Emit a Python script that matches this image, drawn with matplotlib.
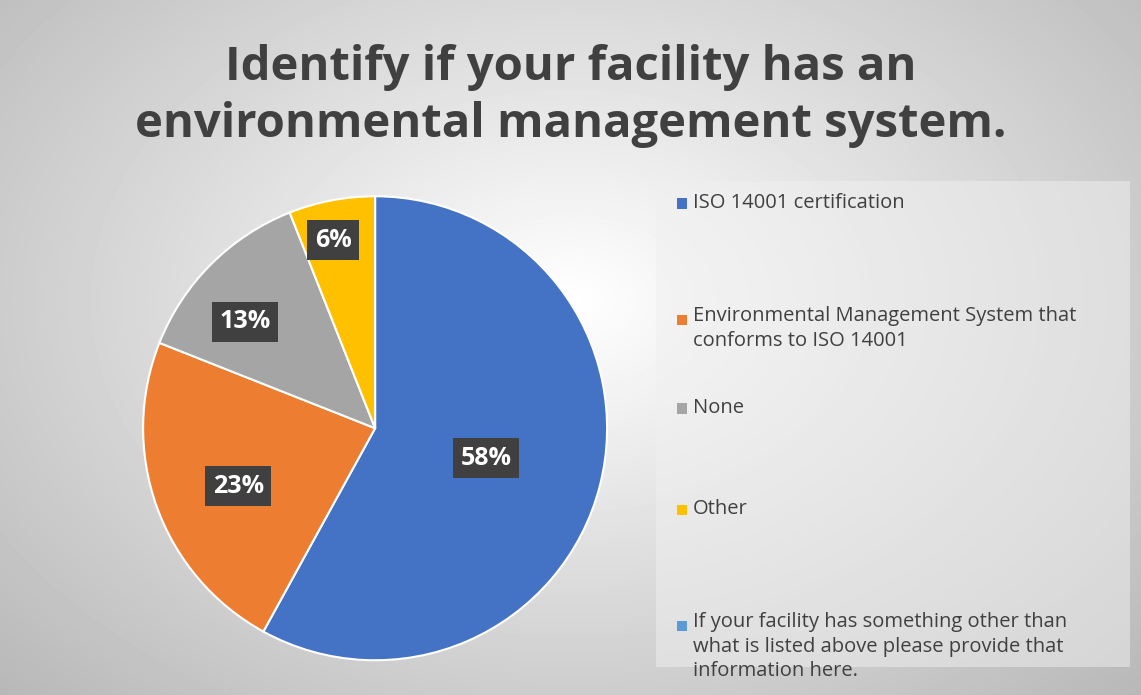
import numpy as np
import matplotlib.pyplot as plt

# Data
categories = ['ISO 14001 certification',
              'Environmental Management System that\nconforms to ISO 14001',
              'None', 'Other',
              'If your facility has something other than\nwhat is listed above please provide that\ninformation here.']
values = [58, 23, 13, 6, 0]
colors = ['#4472C4', '#ED7D31', '#A5A5A5', '#FFC000', '#5B9BD5']

plt.rcParams['font.family'] = ['Open Sans', 'DejaVu Sans']

fig = plt.figure(figsize=(11.41, 6.95), dpi=100)

# radial gradient background
bg = fig.add_axes([0, 0, 1, 1])
yy, xx = np.mgrid[0:695, 0:1141]
r = np.sqrt(((xx - 570) / 800) ** 2 + ((yy - 300) / 560) ** 2)
shade = np.clip(1.0 - 0.28 * r, 0, 1)
bg.imshow(shade, cmap='gray', vmin=0, vmax=1, aspect='auto')
bg.axis('off')

fig.text(0.5, 0.862, 'Identify if your facility has an\nenvironmental management system.',
         ha='center', va='center', fontsize=34, fontweight='bold', color='#404040',
         linespacing=1.3)

ax = fig.add_axes([0.1254, 0.050, 0.4067, 0.6676])
wedges, _ = ax.pie(values[:4], colors=colors[:4], startangle=90, counterclock=False,
                   wedgeprops=dict(edgecolor='white', linewidth=1.5))
ax.set_xlim(-1, 1)
ax.set_ylim(-1, 1)
ax.set_aspect('equal')

label_pos = [(0.48, -0.13), (-0.59, -0.25), (-0.56, 0.46), (-0.18, 0.81)]
for v, (x, y) in zip(values[:4], label_pos):
    ax.text(x, y, f'{v}%', ha='center', va='center', fontsize=18, fontweight='bold',
            color='white',
            bbox=dict(boxstyle='square,pad=0.3', facecolor='#404040', edgecolor='none'))

# legend panel
fig.patches.append(plt.Rectangle((0.575, 0.04), 0.415, 0.70, transform=fig.transFigure,
                                 facecolor='#f0f0f0', alpha=0.5, edgecolor='none'))
leg_y = [0.708, 0.54, 0.413, 0.267, 0.1]
for c, lab, y in zip(colors, categories, leg_y):
    n = lab.count('\n')
    fig.patches.append(plt.Rectangle((0.593, y - 0.008), 0.009, 0.015,
                                     transform=fig.transFigure, facecolor=c))
    fig.text(0.607, y + 0.019 if n else y, lab, ha='left', va='top' if n else 'center',
             fontsize=14.5, color='#404040', linespacing=1.3)

fig.savefig('out.png', dpi=100)
